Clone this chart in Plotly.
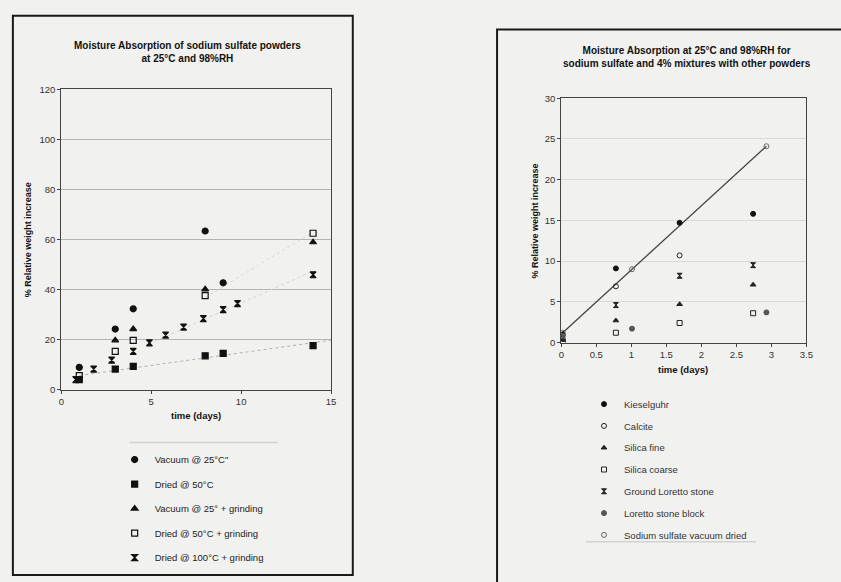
import numpy as np
import plotly.graph_objects as go

W, H = 841, 582

# ---------------- Left chart data ----------------
left_series = ["Vacuum @ 25°C\"", "Dried @ 50°C", "Vacuum @ 25° + grinding",
               "Dried @ 50°C + grinding", "Dried @ 100°C + grinding"]
vac25_x = [1.0, 3.0, 4.0, 8.0, 9.0]
vac25_y = [8.9, 24.2, 32.3, 63.4, 42.7]
dried50_x = [1.0, 3.0, 4.0, 8.0, 9.0, 14.0]
dried50_y = [4.0, 8.2, 9.3, 13.5, 14.5, 17.6]
vac25g_x = [3.0, 4.0, 8.0, 14.0]
vac25g_y = [19.7, 24.2, 40.1, 58.9]
dried50g_x = [1.0, 3.0, 4.0, 8.0, 14.0]
dried50g_y = [5.6, 15.3, 19.7, 37.6, 62.5]
dried100g_x = [0.8, 1.8, 2.8, 4.0, 4.9, 5.8, 6.8, 7.9, 9.0, 9.8, 14.0]
dried100g_y = [4.0, 8.2, 11.8, 15.3, 18.7, 21.8, 25.0, 28.4, 32.0, 34.4, 45.9]
left_xticks = [0, 5, 10, 15]
left_yticks = [0, 20, 40, 60, 80, 100, 120]

# ---------------- Right chart data ----------------
right_series = ["Kieselguhr", "Calcite", "Silica fine", "Silica coarse",
                "Ground Loretto stone", "Loretto stone block", "Sodium sulfate vacuum dried"]
kies_x = [0.02, 0.78, 1.69, 2.74]
kies_y = [1.0, 9.1, 14.7, 15.8]
calc_x = [0.02, 0.78, 1.69]
calc_y = [0.5, 6.9, 10.7]
sfine_x = [0.02, 0.78, 1.69, 2.74]
sfine_y = [0.3, 2.7, 4.7, 7.1]
scoarse_x = [0.02, 0.78, 1.69, 2.74]
scoarse_y = [0.1, 1.2, 2.4, 3.6]
gls_x = [0.02, 0.78, 1.69, 2.74]
gls_y = [0.6, 4.6, 8.2, 9.5]
lsb_x = [0.02, 1.01, 2.93]
lsb_y = [0.8, 1.7, 3.7]
ssvd_x = [0.02, 1.01, 2.93]
ssvd_y = [1.2, 9.0, 24.1]
right_xticks = [0, 0.5, 1, 1.5, 2, 2.5, 3, 3.5]
right_xticklabels = ["0", "0.5", "1", "1.5", "2", "2.5", "3", "3.5"]
right_yticks = [0, 5, 10, 15, 20, 25, 30]

FONT = "Arial, Liberation Sans, sans-serif"
BG = "#f1f1ef"

def px(x):
    return x / W

def py(y):
    return 1 - y / H

fig = go.Figure()

# faint trend lines (left chart), fitted from the data
def fit_line(xs, ys, x0, x1):
    k, b = np.polyfit(xs, ys, 1)
    xx = np.array([x0, x1])
    return xx, k * xx + b

for xs, ys, x0, x1, col in [(dried50_x, dried50_y, 1.0, 15.0, "#b0b0b0"),
                            (dried100g_x, dried100g_y, 4.9, 14.0, "#d2d2d2"),
                            (dried50g_x, dried50g_y, 8.0, 14.0, "#d6d6d6")]:
    tx, ty = fit_line(xs, ys, x0, x1)
    fig.add_trace(go.Scatter(x=tx, y=ty, mode="lines", xaxis="x", yaxis="y",
                             line=dict(color=col, width=1, dash="dot"),
                             showlegend=False, hoverinfo="skip"))

# connecting line of the sodium sulfate vacuum dried series (right chart)
fig.add_trace(go.Scatter(x=ssvd_x, y=ssvd_y, mode="lines", xaxis="x2", yaxis="y2",
                         line=dict(color="#444", width=1.3),
                         showlegend=False, hoverinfo="skip"))

left_specs = [
    (vac25_x, vac25_y, "circle", 6),
    (dried50_x, dried50_y, "square", 6),
    (vac25g_x, vac25g_y, "triangle-up", 6),
    (dried50g_x, dried50g_y, "square-open", 6),
    (dried100g_x, dried100g_y, "hourglass", 6),
]
for name, (xs, ys, sym, sz) in zip(left_series, left_specs):
    fig.add_trace(go.Scatter(
        x=xs, y=ys, mode="markers", name=name, xaxis="x", yaxis="y",
        marker=dict(symbol=sym, size=sz, color="#111",
                    line=dict(color="#111", width=1.2)),
        legend="legend", legendgroup="L" + name))

right_specs = [
    (kies_x, kies_y, "circle", 5, "#111"),
    (calc_x, calc_y, "circle-open", 5, "#222"),
    (sfine_x, sfine_y, "triangle-up", 5, "#222"),
    (scoarse_x, scoarse_y, "square-open", 5, "#222"),
    (gls_x, gls_y, "hourglass", 5, "#222"),
    (lsb_x, lsb_y, "circle", 5, "#555"),
    (ssvd_x, ssvd_y, "circle-open", 5, "#666"),
]
for name, (xs, ys, sym, sz, col) in zip(right_series, right_specs):
    fig.add_trace(go.Scatter(
        x=xs, y=ys, mode="markers", name=name, xaxis="x2", yaxis="y2",
        marker=dict(symbol=sym, size=sz, color=col, line=dict(color=col, width=1)),
        legend="legend2", legendgroup="R" + name))

axis_common = dict(showline=True, mirror=True, linecolor="#444", linewidth=1,
                   ticks="outside", ticklen=3, tickcolor="#444",
                   tickfont=dict(family=FONT, size=9.5, color="#333"),
                   zeroline=False)

fig.update_layout(
    width=W, height=H,
    margin=dict(l=0, r=0, t=0, b=0),
    paper_bgcolor=BG, plot_bgcolor=BG,
    font=dict(family=FONT, color="#222"),
    xaxis=dict(domain=[px(59), px(332)], range=[0, 15], tickvals=left_xticks,
               showgrid=False, anchor="y", **axis_common),
    yaxis=dict(domain=[py(391), py(85)], range=[0, 120], tickvals=left_yticks,
               showgrid=True, gridcolor="#b4b4b4", gridwidth=1, anchor="x",
               **axis_common),
    xaxis2=dict(domain=[px(565), px(813)], range=[0, 3.5], tickvals=right_xticks,
                ticktext=right_xticklabels, showgrid=False, anchor="y2", **axis_common),
    yaxis2=dict(domain=[py(343), py(94)], range=[0, 30], tickvals=right_yticks,
                showgrid=True, gridcolor="#dadada", gridwidth=1, anchor="x2",
                **axis_common),
    legend=dict(x=px(113), y=py(447.5), xanchor="left", yanchor="top",
                bgcolor="rgba(0,0,0,0)", font=dict(family=FONT, size=9.5, color="#222"),
                tracegroupgap=5.5, itemwidth=30),
    legend2=dict(x=px(588), y=py(391), xanchor="left", yanchor="top",
                 bgcolor="rgba(0,0,0,0)", font=dict(family=FONT, size=9.5, color="#333"),
                 tracegroupgap=2.8, itemwidth=30),
    showlegend=True,
)

annos = [
    dict(text="<b>Moisture Absorption of sodium sulfate powders<br>at 25°C and 98%RH</b>",
         x=px(187), y=py(47), size=10),
    dict(text="<b>Moisture Absorption at 25°C and 98%RH for<br>sodium sulfate and 4% mixtures with other powders</b>",
         x=px(692), y=py(52), size=10),
    dict(text="<b>time (days)</b>", x=px(195), y=py(417), size=9.5),
    dict(text="<b>time (days)</b>", x=px(688), y=py(370), size=9.5),
]
for a in annos:
    fig.add_annotation(text=a["text"], x=a["x"], y=a["y"], xref="paper", yref="paper",
                       showarrow=False, xanchor="center", yanchor="middle",
                       font=dict(family=FONT, size=a["size"], color="#111"))
for xx, yy in [(25, 238), (538, 219)]:
    fig.add_annotation(text="<b>% Relative weight increase</b>", x=px(xx), y=py(yy),
                       xref="paper", yref="paper", showarrow=False, textangle=-90,
                       xanchor="center", yanchor="middle",
                       font=dict(family=FONT, size=9, color="#111"))

# outer frames of the two scanned charts
fig.add_shape(type="rect", xref="paper", yref="paper", x0=px(10), x1=px(354),
              y0=py(580), y1=py(10), line=dict(color="#1a1a1a", width=2))
fig.add_shape(type="rect", xref="paper", yref="paper", x0=px(500), x1=px(860),
              y0=py(600), y1=py(24), line=dict(color="#1a1a1a", width=2))
# faint legend-box remnants
fig.add_shape(type="line", xref="paper", yref="paper", x0=px(128), x1=px(278),
              y0=py(445), y1=py(445), line=dict(color="#d2d2d2", width=1.5))
fig.add_shape(type="line", xref="paper", yref="paper", x0=px(590), x1=px(762),
              y0=py(546), y1=py(546), line=dict(color="#d2d2d2", width=1.5))

fig.write_html("out.html", config={"displayModeBar": False},
               post_script="document.body.style.margin='0';document.body.style.overflow='hidden';")
